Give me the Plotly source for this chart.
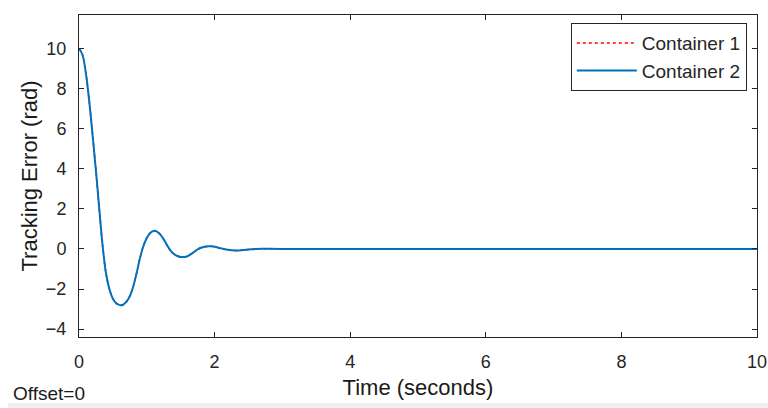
import plotly.graph_objects as go

# Time samples (seconds) and tracking error (rad)
time_s = [0.0, 0.05, 0.1, 0.15, 0.2, 0.25, 0.3, 0.35, 0.4, 0.45, 0.5, 0.55, 0.6, 0.65,
          0.7, 0.75, 0.8, 0.85, 0.9, 0.95, 1.0, 1.05, 1.1, 1.15, 1.2, 1.25, 1.3, 1.35,
          1.4, 1.45, 1.5, 1.55, 1.6, 1.65, 1.7, 1.75, 1.8, 1.85, 1.9, 1.95, 2.0, 2.1,
          2.2, 2.3, 2.4, 2.5, 2.6, 2.7, 2.8, 3.0, 3.5, 4.0, 5.0, 6.0, 7.0, 8.0, 9.0, 10.0]
error_c2 = [10.0, 9.7, 8.8, 7.4, 5.7, 3.9, 1.95, 0.1, -1.25, -2.02, -2.48, -2.71, -2.8, -2.78,
            -2.63, -2.35, -1.87, -1.2, -0.45, 0.15, 0.55, 0.8, 0.9, 0.87, 0.72, 0.48, 0.18, -0.08,
            -0.25, -0.35, -0.4, -0.4, -0.36, -0.26, -0.14, -0.02, 0.06, 0.11, 0.13, 0.13, 0.11, 0.03,
            -0.04, -0.07, -0.06, -0.03, 0.0, 0.015, 0.015, 0.005, 0.0, 0.0, 0.0, 0.0, 0.0, 0.0, 0.0, 0.0]
error_c1 = list(error_c2)  # Container 1 lies underneath Container 2

x_ticks = [0, 2, 4, 6, 8, 10]
y_ticks = [-4, -2, 0, 2, 4, 6, 8, 10]

FONT = "Liberation Sans, Arial, sans-serif"
AX = "#262626"

fig = go.Figure()
fig.add_trace(go.Scatter(x=time_s, y=error_c1, mode="lines", name="Container 1",
                         line=dict(color="#FF0000", width=1.5, dash="dot", shape="spline")))
fig.add_trace(go.Scatter(x=time_s, y=error_c2, mode="lines", name="Container 2",
                         line=dict(color="#0072BD", width=2, shape="spline")))

fig.update_layout(
    width=768, height=408,
    margin=dict(l=79, r=11, t=15, b=71, autoexpand=False),
    paper_bgcolor="white", plot_bgcolor="white",
    font=dict(family=FONT, color=AX, size=18),
    showlegend=True,
    legend=dict(x=0.985, y=0.975, xanchor="right", yanchor="top",
                bgcolor="white", bordercolor=AX, borderwidth=1,
                font=dict(family=FONT, size=19, color=AX),
                tracegroupgap=0, itemwidth=60),
    xaxis=dict(range=[0, 10], tickvals=x_ticks, ticks="inside", ticklen=5, tickcolor=AX,
               showline=True, linecolor=AX, linewidth=1, mirror="allticks",
               showgrid=False, zeroline=False, tickfont=dict(size=18, color=AX),
               ticklabelstandoff=8, automargin=False,
               title=dict(text="Time (seconds)", font=dict(size=22, color="#1a1a1a"), standoff=9)),
    yaxis=dict(range=[-4.39, 11.67], tickvals=y_ticks, ticks="inside", ticklen=5, tickcolor=AX,
               showline=True, linecolor=AX, linewidth=1, mirror="allticks",
               showgrid=False, zeroline=False, tickfont=dict(size=18, color=AX),
               ticklabelstandoff=8, automargin=False,
               title=dict(text="Tracking Error (rad)", font=dict(size=22, color="#1a1a1a"), standoff=2)),
    shapes=[dict(type="rect", xref="paper", yref="paper",
                 x0=-71/678, x1=1 + 11/678, y0=-71/322, y1=-66/322,
                 fillcolor="#f0f0f0", line=dict(width=0), layer="below")],
    annotations=[dict(text="Offset=0", xref="paper", yref="paper",
                      x=-68/678, y=-69/322, xanchor="left", yanchor="bottom",
                      showarrow=False, font=dict(family=FONT, size=19, color="#1a1a1a"))],
)

fig.write_html("out.html")
